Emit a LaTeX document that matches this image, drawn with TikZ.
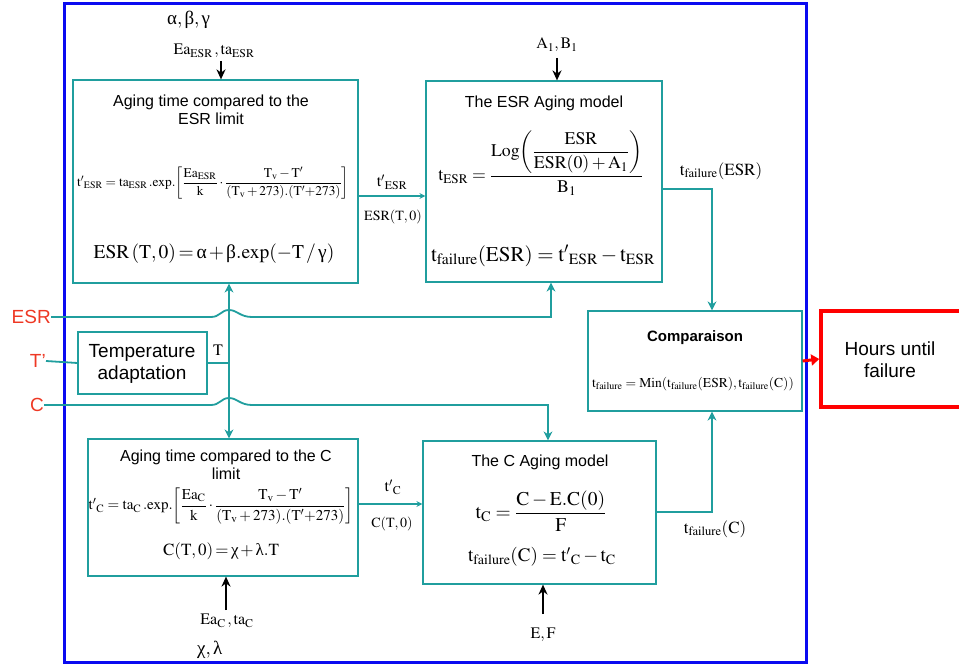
\documentclass[tikz,border=0pt]{standalone}
\usepackage{amsmath}
\usepackage{mathptmx}
\usepackage[no-math]{fontspec}
\setmainfont{Liberation Sans}
\newfontfamily\grk{Liberation Serif}
\usetikzlibrary{arrows.meta}
\definecolor{tealc}{RGB}{32,158,158}
\definecolor{labred}{RGB}{238,56,36}
\definecolor{frameblue}{RGB}{10,10,240}
\newcommand{\fs}[1]{\fontsize{#1}{#1}\selectfont}
\newcommand{\gal}{\mathord{\text{\grk α}}}
\newcommand{\gbe}{\mathord{\text{\grk β}}}
\newcommand{\ggm}{\mathord{\text{\grk γ}}}
\newcommand{\gch}{\mathord{\text{\grk χ}}}
\newcommand{\glm}{\mathord{\text{\grk λ}}}
\newcommand{\tight}{\thickmuskip=2.5mu\medmuskip=2mu}
\tikzset{
  tbox/.style={draw=tealc, line width=1.2pt, inner sep=0pt, fill=none},
  tline/.style={draw=tealc, line width=1.8pt},
  tarrow/.style={tline, -{Stealth[length=9pt,width=9pt]}},
  tsmall/.style={tline, -{Stealth[length=6pt,width=6pt,open]}},
  barrow/.style={draw=black, line width=1.8pt, -{Stealth[length=10pt,width=9pt]}},
  ttl/.style={font=\fs{16}, align=center, inner sep=0pt},
  lbl/.style={font=\fs{16}, inner sep=0pt},
  inlbl/.style={text=labred, font=\fs{19}, inner sep=0pt},
  frm/.style={inner sep=0pt},
}
\begin{document}
\begin{tikzpicture}[x=1pt,y=-1pt]
\useasboundingbox (0,0) rectangle (959,666);
% outer frame
\node[draw=frameblue, line width=3pt, minimum width=742pt, minimum height=659pt, inner sep=0pt] (frame) at (435,333) {};
% boxes
\node[tbox, minimum width=285pt, minimum height=203pt] (b1) at (215.5,181.5) {};
\node[tbox, minimum width=236pt, minimum height=201pt] (b2) at (544,181.5) {};
\node[tbox, minimum width=129pt, minimum height=62pt] (tmp) at (142.5,363) {};
\node[tbox, minimum width=214pt, minimum height=100pt] (cmp) at (695,361) {};
\node[draw=red, line width=3.5pt, minimum width=144pt, minimum height=96pt, inner sep=0pt] (hrs) at (893,359) {};
\node[tbox, minimum width=270pt, minimum height=137pt] (b4) at (223,507.5) {};
\node[tbox, minimum width=233pt, minimum height=143pt] (b5) at (539.5,512.5) {};
% box 1 content
\node[ttl] (b1t) at (211,110) {Aging time compared to the\\[2pt]ESR limit};
\node[frm, font=\fs{13.4}] (b1f1) at (213,183) {$\mathrm{{t'}_{ESR} = ta_{ESR}\,.exp.\!\left[\dfrac{Ea_{ESR}}{k}\cdot\dfrac{T_v - T'}{(T_v + 273).(T'{+}273)}\right]}$};
\node[frm, font=\fs{19.5}] (b1f2) at (214,254) {$\tight\mathrm{ESR\,(T,0) = \gal + \gbe.exp(-T\,/\,\ggm)}$};
% box 2 content
\node[ttl] (b2t) at (544,103) {The ESR Aging model};
\node[frm, font=\fs{17.8}] (b2f1) at (541,163) {$\mathrm{t_{ESR} = \dfrac{Log\!\left(\dfrac{ESR}{ESR(0) + A_1}\right)}{B_1}}$};
\node[frm, font=\fs{21}] (b2f2) at (543,256) {$\mathrm{t_{failure}(ESR) = {t'}_{ESR} - t_{ESR}}$};
% temperature
\node[frm, font=\fs{19}, align=center] (tmpt) at (142,364) {Temperature\\[3pt]adaptation};
% comparaison
\node[frm, font=\bfseries\fs{15}] (cmpt) at (695,338) {Comparaison};
\node[frm, font=\fs{13.6}] (cmpf) at (693,384) {$\mathrm{t_{failure} = Min(t_{failure}(ESR), t_{failure}(C))}$};
% hours
\node[frm, font=\fs{19}, align=center] (hrst) at (890,360) {Hours until\\[3pt]failure};
% box 4 content
\node[ttl] (b4t) at (226,465) {Aging time compared to the C\\[2pt]limit};
\node[frm, font=\fs{15}] (b4f1) at (221,506) {$\mathrm{{t'}_C = ta_C\,.exp.\!\left[\dfrac{Ea_C}{k}\cdot\dfrac{T_v - T'}{(T_v + 273).(T'{+}273)}\right]}$};
\node[frm, font=\fs{17}] (b4f2) at (221,551) {$\tight\mathrm{C(T,0) = \gch + \glm.T}$};
% box 5 content
\node[ttl] (b5t) at (540,462) {The C Aging model};
\node[frm, font=\fs{19.5}] (b5f1) at (541,511) {$\mathrm{t_C = \dfrac{C - E.C(0)}{F}}$};
\node[frm, font=\fs{19}] (b5f2) at (542,557) {$\mathrm{t_{failure}(C) = {t'}_C - t_C}$};
% top / bottom parameter labels
\node[lbl, anchor=west, font=\fs{19}] (abg) at (167,20) {$\gal,\gbe,\ggm$};
\node[lbl] (eaesr) at (214,51) {$\mathrm{Ea_{ESR}\,, ta_{ESR}}$};
\node[lbl] (ab) at (557,45) {$\mathrm{A_1, B_1}$};
\node[lbl] (eac) at (227,621) {$\mathrm{Ea_C\,, ta_C}$};
\node[lbl, anchor=west, font=\fs{19}] (chl) at (197,650) {$\gch,\glm$};
\node[lbl] (ef) at (543,635) {$\mathrm{E, F}$};
% link labels
\node[lbl] (l1a) at (392,182) {$\mathrm{{t'}_{ESR}}$};
\node[lbl, font=\fs{14}] (l1b) at (393,217) {$\mathrm{ESR(T,0)}$};
\node[lbl] (l2a) at (393,487) {$\mathrm{{t'}_C}$};
\node[lbl, font=\fs{14}] (l2b) at (392,524) {$\mathrm{C(T,0)}$};
\node[lbl, font=\fs{17}] (l3) at (721,171) {$\mathrm{t_{failure}(ESR)}$};
\node[lbl, font=\fs{17}] (l4) at (715,529) {$\mathrm{t_{failure}(C)}$};
\node[lbl] (lt) at (218,350) {$\mathrm{T}$};
% input labels
\node[inlbl, anchor=east] (iesr) at (51,317) {ESR};
\node[inlbl, anchor=east] (it) at (46,361) {T’};
\node[inlbl, anchor=east] (ic) at (44,405) {C};
% helper coordinates
\coordinate (vx) at (229,0);
\coordinate (ye) at (0,196);
\coordinate (yc) at (0,504);
\coordinate (xo) at (712,0);
\coordinate (xe) at (551,0);
\coordinate (xc) at (548,0);
\coordinate (y2) at (0,189);
\coordinate (y5) at (0,512);
% black parameter arrows
\draw[barrow] (221,61) coordinate (a1s) -- (a1s |- b1.north);
\draw[barrow] (557,58) coordinate (a2s) -- (a2s |- b2.north);
\draw[barrow] (226,610) coordinate (a4s) -- (a4s |- b4.south);
\draw[barrow] (543,614) coordinate (a5s) -- (a5s |- b5.south);
% internal connectors
\draw[tsmall] (b1.east |- ye) -- (b2.west |- ye);
\draw[tsmall] (b4.east |- yc) -- (b5.west |- yc);
\draw[tarrow] (b2.east |- y2) -| (xo |- cmp.north);
\draw[tarrow] (b5.east |- y5) -| (xo |- cmp.south);
\draw[tline, {Stealth[length=9pt,width=9pt]}-{Stealth[length=9pt,width=9pt]}] (vx |- b1.south) -- (vx |- b4.north);
\draw[tline] (tmp.east) -- (vx |- tmp.east);
\draw[tline] (it.east) -- (tmp.west);
\draw[tarrow] (iesr.east) -- (211,317) .. controls (220,317) and (221,310) .. (229,310) .. controls (237,310) and (240,317) .. (252,317) -- (xe |- 0,317) -- (xe |- b2.south);
\draw[tarrow] (ic.east) -- (211,405) .. controls (220,405) and (221,398) .. (229,398) .. controls (237,398) and (240,405) .. (252,405) -- (xc |- 0,405) -- (xc |- b5.north);
\draw[draw=red, line width=3pt, -{Triangle[length=8pt,width=11pt]}] (cmp.east) -- (hrs.west);
\end{tikzpicture}
\end{document}
